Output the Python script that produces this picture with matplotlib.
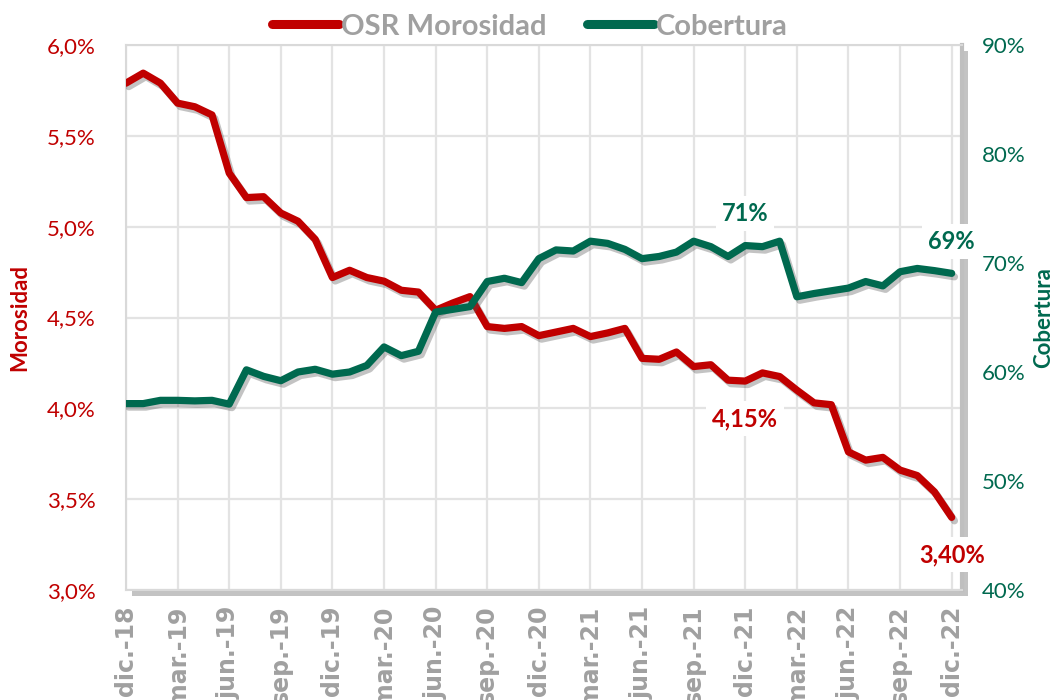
import matplotlib.pyplot as plt
import matplotlib.patheffects as pe
from matplotlib.ticker import FuncFormatter, MultipleLocator
import numpy as np

# monthly values dic-18 .. dic-22
morosidad = [5.79, 5.845, 5.79, 5.68, 5.66, 5.615, 5.295, 5.16, 5.165, 5.075,
             5.03, 4.93, 4.72, 4.76, 4.72, 4.70, 4.65, 4.64, 4.54, 4.58,
             4.615, 4.45, 4.44, 4.45, 4.40, 4.42, 4.44, 4.395, 4.415, 4.44,
             4.275, 4.27, 4.31, 4.23, 4.24, 4.155, 4.15, 4.195, 4.175, 4.10,
             4.03, 4.02, 3.76, 3.715, 3.73, 3.66, 3.63, 3.54, 3.40]
cobertura = [57.1, 57.1, 57.4, 57.4, 57.35, 57.4, 57.05, 60.2, 59.6, 59.2,
             60.0, 60.25, 59.8, 60.0, 60.6, 62.3, 61.5, 61.9, 65.5, 65.75,
             66.0, 68.3, 68.6, 68.2, 70.4, 71.2, 71.1, 72.0, 71.8, 71.25,
             70.4, 70.6, 71.0, 72.0, 71.5, 70.6, 71.6, 71.5, 72.0, 66.9,
             67.2, 67.45, 67.7, 68.3, 67.9, 69.2, 69.5, 69.3, 69.05]
tick_labels = ['dic.-18', 'mar.-19', 'jun.-19', 'sep.-19', 'dic.-19', 'mar.-20',
               'jun.-20', 'sep.-20', 'dic.-20', 'mar.-21', 'jun.-21', 'sep.-21',
               'dic.-21', 'mar.-22', 'jun.-22', 'sep.-22', 'dic.-22']
# annotated points: (index, text)
labels_mor = [(36, '4,15%'), (48, '3,40%')]
labels_cob = [(36, '71%'), (48, '69%')]

RED = '#C00000'
GREEN = '#00694F'
GREY = '#A0A0A0'

plt.rcParams['font.family'] = ['Lato', 'DejaVu Sans']

x = np.arange(len(morosidad))

fig = plt.figure(figsize=(10.6, 7), dpi=100)
ax = fig.add_axes([126 / 1060, 1 - 590 / 700, (962 - 126) / 1060, 545 / 700])
ax2 = ax.twinx()

# plot area with soft shadow
ax.patch.set_path_effects([pe.SimplePatchShadow(offset=(4, -4), shadow_rgbFace='#888888', alpha=0.5),
                           pe.Normal()])
for s in ax.spines.values():
    s.set_color('#D9D9D9')
    s.set_linewidth(1.5)
for s in ax2.spines.values():
    s.set_visible(False)
ax.spines['right'].set_color('#BFBFBF')
ax.spines['right'].set_linewidth(3)

shadow = [pe.SimpleLineShadow(offset=(2, -2.5), shadow_color='#555555', alpha=0.35), pe.Normal()]

l1, = ax.plot(x, morosidad, color=RED, lw=5.2, solid_joinstyle='round', solid_capstyle='round',
              path_effects=shadow, label='OSR Morosidad', zorder=3)
l2, = ax2.plot(x, cobertura, color=GREEN, lw=5.2, solid_joinstyle='round', solid_capstyle='round',
               path_effects=shadow, label='Cobertura', zorder=3)

ax.set_xlim(0, 48.6)
ax.set_ylim(3.0, 6.0)
ax2.set_ylim(40, 90)

# x labels run past the bottom edge, as in the original
ax.set_xticks(np.arange(0, 49, 3))
ax.set_xticklabels(tick_labels, rotation=90, fontsize=17, fontweight='bold', color=GREY, va='top',
                   family='DejaVu Sans')
ax.yaxis.set_major_locator(MultipleLocator(0.5))
ax.yaxis.set_major_formatter(FuncFormatter(lambda v, p: f'{v:.1f}%'.replace('.', ',')))
ax2.yaxis.set_major_locator(MultipleLocator(10))
ax2.yaxis.set_major_formatter(FuncFormatter(lambda v, p: f'{v:.0f}%'))
ax.tick_params(axis='y', colors=RED, labelsize=16, length=0, pad=22)
ax.tick_params(axis='x', length=0, pad=11)
ax2.tick_params(axis='y', colors=GREEN, labelsize=16, length=0, pad=14)

ax.grid(True, color='#E3E3E3', lw=1.6)
ax.set_axisbelow(True)

ax.set_ylabel('Morosidad', color=RED, fontsize=16, fontweight='bold', labelpad=12)
ax2.set_ylabel('Cobertura', color=GREEN, fontsize=16, fontweight='bold', labelpad=6)

bbox = dict(boxstyle='square,pad=0.25', fc='white', ec='none')
for i, t in labels_mor:
    ax.annotate(t, (x[i], morosidad[i]), xytext=(0, -27), textcoords='offset points',
                ha='center', va='center', color=RED, fontsize=17, fontweight='bold', bbox=bbox, zorder=5)
for i, t in labels_cob:
    ax2.annotate(t, (x[i], cobertura[i]), xytext=(0, 23), textcoords='offset points',
                 ha='center', va='center', color=GREEN, fontsize=17, fontweight='bold', bbox=bbox, zorder=5)

leg = fig.legend(handles=[l1, l2], loc='upper center', bbox_to_anchor=(0.5, 1.018), ncol=2,
                 frameon=False, handlelength=2.3, handletextpad=0.05, columnspacing=1.4,
                 prop={'family': 'Lato', 'weight': 'bold', 'size': 21})
for t in leg.get_texts():
    t.set_color(GREY)
for h in leg.legend_handles:
    h.set_linewidth(6.5)
    h.set_path_effects([])

fig.savefig('out.png', dpi=100)
